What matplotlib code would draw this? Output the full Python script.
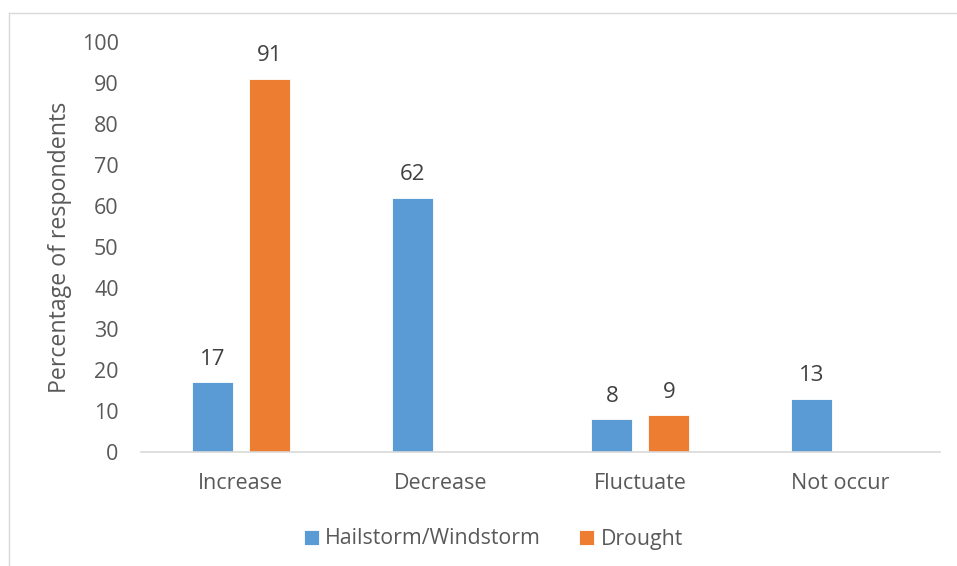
import numpy as np
import matplotlib.pyplot as plt
from matplotlib.lines import Line2D

plt.rcParams['font.family'] = ['Open Sans', 'DejaVu Sans']

# Survey results: perceived trend of each hazard
categories = ["Increase", "Decrease", "Fluctuate", "Not occur"]
hailstorm = [17, 62, 8, 13]
drought = [91, np.nan, 9, np.nan]
series_names = ["Hailstorm/Windstorm", "Drought"]
colors = ["#5B9BD5", "#ED7D31"]
text_color = "#595959"

fig = plt.figure(figsize=(9.57, 5.66), dpi=100)
ax = fig.add_axes([0.1473, 0.2014, 0.8349, 0.7244])

x = np.arange(len(categories))
width = 0.205
offset = 0.1425

for vals, name, col, dx in zip([hailstorm, drought], series_names, colors, [-offset, offset]):
    bars = ax.bar(x + dx, vals, width, color=col, label=name,
                  edgecolor="white", linewidth=0.6)
    for xi, v in zip(x + dx, vals):
        if not np.isnan(v):
            ax.annotate(f"{v:g}", (xi, v), xytext=(0, 9), textcoords="offset points",
                        ha="center", va="bottom", fontsize=16, color="#404040")

ax.set_xlim(-0.5, 3.5)
ax.set_ylim(0, 100)
ax.set_yticks(range(0, 101, 10))
ax.set_xticks(x)
ax.set_xticklabels(categories)
ax.tick_params(axis="both", length=0, labelsize=15.5, colors=text_color)
ax.tick_params(axis="y", pad=16)
ax.tick_params(axis="x", pad=15)
ax.set_ylabel("Percentage of respondents", fontsize=16.7, color=text_color, labelpad=7)

for side in ["top", "right", "left"]:
    ax.spines[side].set_visible(False)
ax.spines["bottom"].set_color("#D9D9D9")
ax.spines["bottom"].set_linewidth(1.2)

ax.legend(loc="center", bbox_to_anchor=(493.5 / 957, 27 / 566), bbox_transform=fig.transFigure,
          ncol=2, frameon=False, fontsize=15.3, labelcolor=text_color,
          handlelength=0.7, handleheight=0.7, handletextpad=0.3, columnspacing=1.8)

# light chart-area border (top and left edges)
fig.add_artist(Line2D([9 / 957, 1], [1 - 13 / 566, 1 - 13 / 566], transform=fig.transFigure,
                      color="#D9D9D9", linewidth=1))
fig.add_artist(Line2D([9 / 957, 9 / 957], [0, 1 - 13 / 566], transform=fig.transFigure,
                      color="#D9D9D9", linewidth=1))

fig.savefig("out.png", dpi=100)
